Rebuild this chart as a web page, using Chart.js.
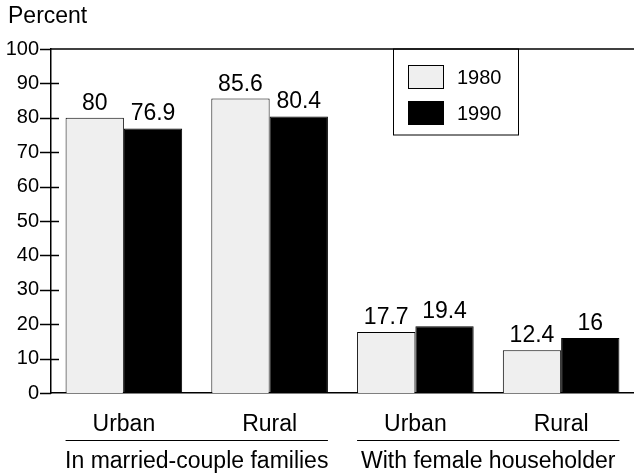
<!DOCTYPE html>
<html>
<head>
<meta charset="utf-8">
<script src="https://cdn.jsdelivr.net/npm/chart.js@4"></script>
<style>
  html, body { margin: 0; padding: 0; background: #fff; }
  #wrap { width: 634px; height: 476px; }
</style>
</head>
<body>
<div id="wrap"><canvas id="myChart" width="634" height="476"></canvas></div>
<script>
// Data
var categories = ["Urban", "Rural", "Urban", "Rural"];
var groups = ["In married-couple families", "With female householder"];
var values1980 = [80, 85.6, 17.7, 12.4];
var values1990 = [76.9, 80.4, 19.4, 16];
var yTicks = [0, 10, 20, 30, 40, 50, 60, 70, 80, 90, 100];

var FONT = "'Liberation Sans', Arial, sans-serif";

// draws y ticks that cross the axis, value labels, category/group labels and the legend box
var decor = {
  id: "decor",
  afterDatasetsDraw: function (chart) {
    var ctx = chart.ctx;
    var area = chart.chartArea;
    var x = chart.scales.x, y = chart.scales.y;
    ctx.save();
    ctx.strokeStyle = "#000";
    ctx.fillStyle = "#000";
    ctx.lineWidth = 1.5;

    // top frame line
    ctx.beginPath();
    ctx.moveTo(area.left, area.top);
    ctx.lineTo(area.right, area.top);
    ctx.stroke();

    // y tick marks
    yTicks.forEach(function (v) {
      var py = Math.round(y.getPixelForValue(v)) + 0.5;
      ctx.beginPath();
      ctx.moveTo(area.left - 11, py);
      ctx.lineTo(v === 0 || v === 100 ? area.left : area.left + 8, py);
      ctx.stroke();
    });

    // value labels above bars
    ctx.font = "23px " + FONT;
    ctx.textAlign = "center";
    ctx.textBaseline = "alphabetic";
    chart.data.datasets.forEach(function (ds, i) {
      chart.getDatasetMeta(i).data.forEach(function (bar, j) {
        ctx.fillText(String(ds.data[j]), bar.x, bar.y - 8);
      });
    });

    // category labels
    ctx.font = "23px " + FONT;
    ctx.textBaseline = "middle";
    categories.forEach(function (c, i) {
      ctx.fillText(c, x.getPixelForValue(i), 425);
    });

    // group lines and labels
    var m0 = chart.getDatasetMeta(0).data, m1 = chart.getDatasetMeta(1).data;
    groups.forEach(function (g, k) {
      var a = m0[k * 2], b = m1[k * 2 + 1];
      var left = a.x - a.width / 2, right = b.x + b.width / 2;
      ctx.lineWidth = 1;
      ctx.beginPath();
      ctx.moveTo(left, 440.5);
      ctx.lineTo(right, 440.5);
      ctx.stroke();
      ctx.fillText(g, (left + right) / 2, 462);
    });

    // legend box
    ctx.lineWidth = 1;
    ctx.strokeRect(393.5, area.top, 125, 86);
    var items = [["1980", "#efefef"], ["1990", "#000"]];
    items.forEach(function (it, k) {
      var top = 65 + k * 36;
      ctx.fillStyle = it[1];
      ctx.fillRect(408, top, 36, 24);
      ctx.strokeStyle = "#000";
      ctx.strokeRect(408.5, top + 0.5, 35, 23);
      ctx.fillStyle = "#000";
      ctx.textAlign = "left";
      ctx.font = "20px " + FONT;
      ctx.fillText(it[0], 457, top + 13);
    });

    // y axis title
    ctx.font = "23px " + FONT;
    ctx.textAlign = "left";
    ctx.fillText("Percent", 8, 17);
    ctx.restore();
  }
};

var data = {
  labels: categories,
  datasets: [
    {
      label: "1980",
      data: values1980,
      backgroundColor: "#efefef",
      borderColor: "#000",
      borderWidth: 1,
    },
    {
      label: "1990",
      data: values1990,
      backgroundColor: "#000",
      borderColor: "#000",
      borderWidth: 1,
    },
  ],
};

var options = {
  responsive: false,
  animation: false,
  layout: { padding: { top: 49, right: 0, left: 0, bottom: 0 } },
  plugins: {
    legend: { display: false },
    tooltip: { enabled: false },
  },
  datasets: { bar: { categoryPercentage: 0.8, barPercentage: 1 } },
  scales: {
    x: {
      grid: { display: false },
      border: { color: "#000", width: 1.5 },
      ticks: { display: false },
      afterFit: function (s) { s.height = 83; },
    },
    y: {
      min: 0,
      max: 100,
      grid: { display: false, drawTicks: false },
      border: { color: "#000", width: 1.5 },
      ticks: {
        stepSize: 10,
        padding: 12,
        color: "#000",
        font: { family: FONT, size: 20 },
      },
      afterFit: function (s) { s.width = 51; },
    },
  },
};

var myChart = new Chart(document.getElementById("myChart").getContext("2d"), {
  type: "bar",
  data: data,
  options: options,
  plugins: [decor],
});
</script>
</body>
</html>
